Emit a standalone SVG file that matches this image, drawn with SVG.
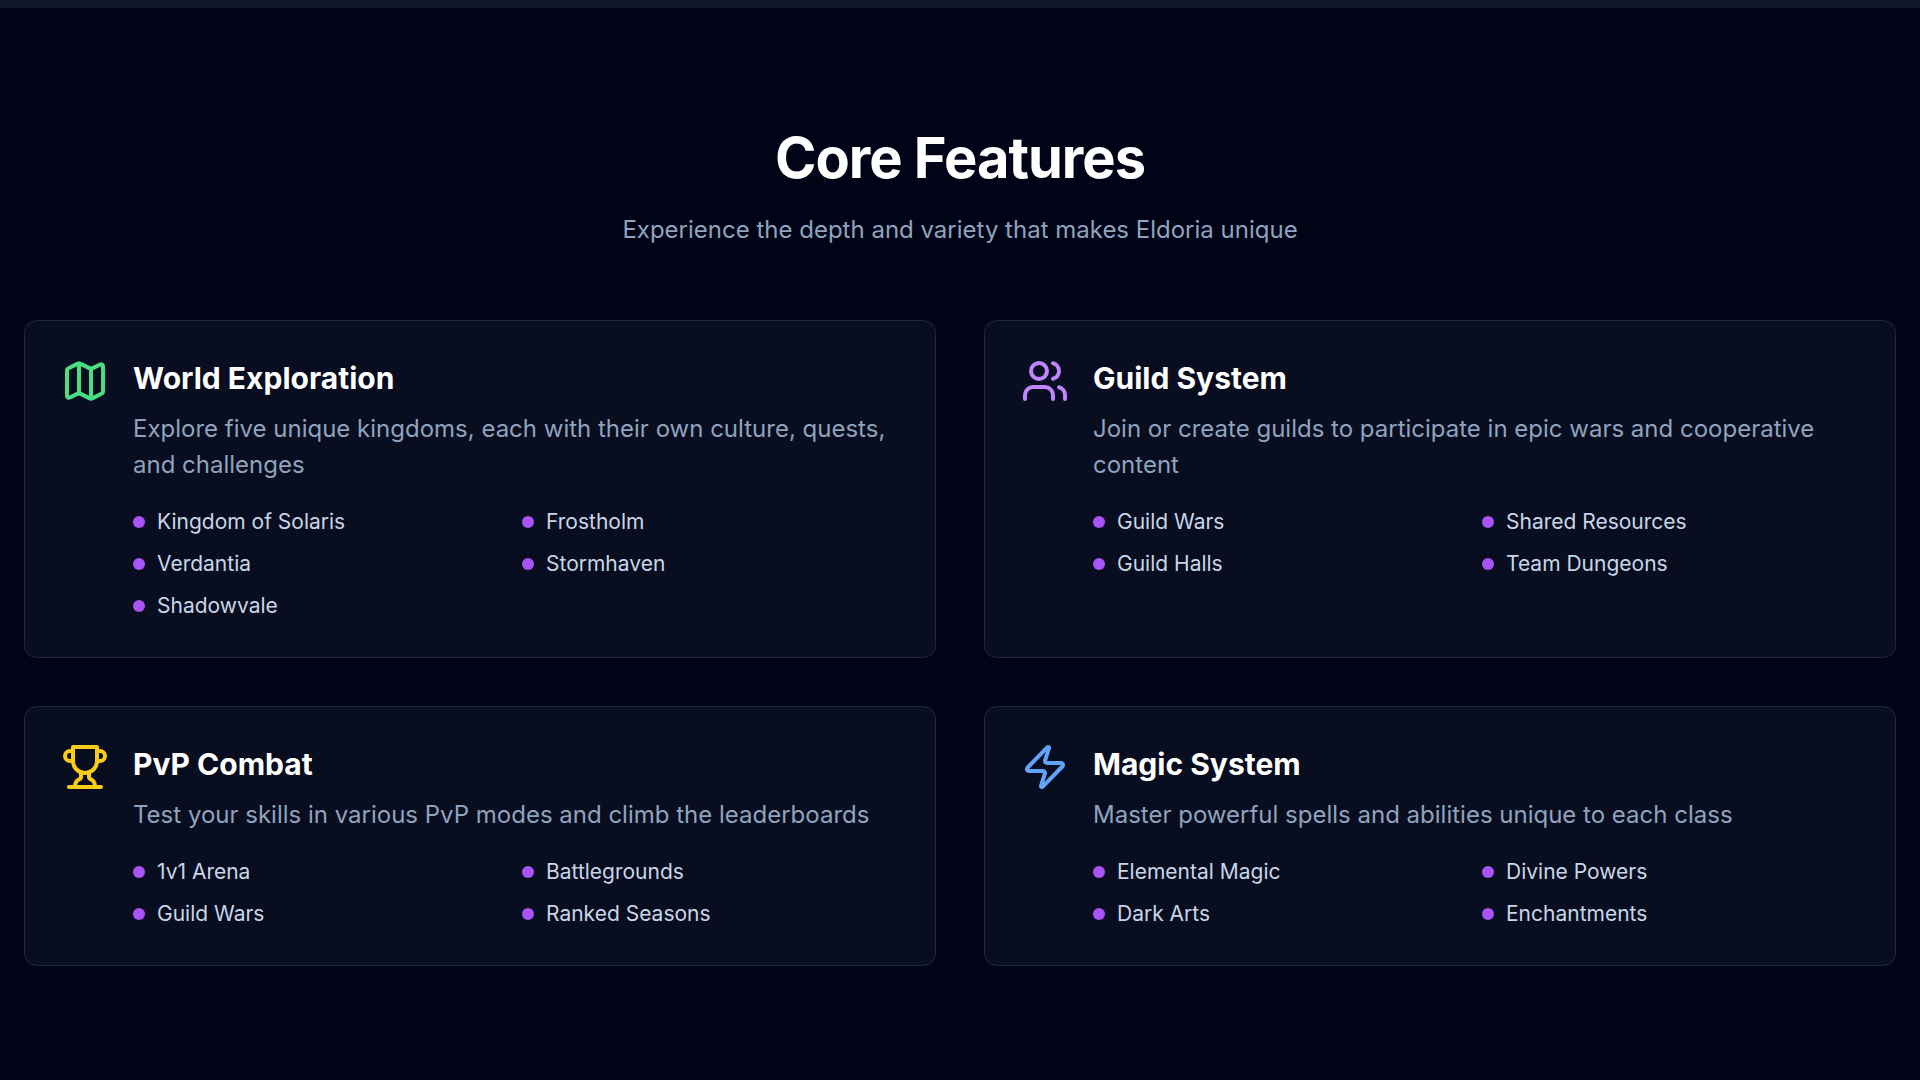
<svg xmlns="http://www.w3.org/2000/svg" width="1920" height="1080" viewBox="0 0 1920 1080">
<defs>
<style>
text{font-family:Inter,"Liberation Sans",sans-serif}
.h{font-size:56px;font-weight:700;fill:#fff;text-anchor:middle;letter-spacing:-1px}
.s{font-size:24px;fill:#8fa3be;text-anchor:middle}
.card{fill:#080d1f;stroke:#1e293b;stroke-width:1}
.t{font-size:30px;font-weight:700;fill:#fff}
.d{font-size:24px;fill:#8fa3be}
.l{font-size:21px;fill:#c8d6e8}
.b{fill:#a855f7}
.i{fill:none;stroke-width:2;stroke-linecap:round;stroke-linejoin:round}
</style>
</defs>
<rect width="1920" height="1080" fill="#010416"/>
<rect width="1920" height="8" fill="#0f172a"/>
<text class="h" x="960" y="178">Core Features</text>
<text class="s" x="960" y="238">Experience the depth and variety that makes Eldoria unique</text>
<g id="world-exploration">
<rect class="card" x="24.5" y="320.5" width="911" height="337" rx="12"/>
<g class="i" stroke="#4ade80" transform="translate(61 357) scale(2)"><path d="M14.106 5.553a2 2 0 0 0 1.788 0l3.659-1.83A1 1 0 0 1 21 4.619v12.764a1 1 0 0 1-.553.894l-4.553 2.277a2 2 0 0 1-1.788 0l-4.212-2.106a2 2 0 0 0-1.788 0l-3.659 1.83A1 1 0 0 1 3 19.381V6.618a1 1 0 0 1 .553-.894l4.553-2.277a2 2 0 0 1 1.788 0z"/><path d="M15 5.764v15"/><path d="M9 3.236v15"/></g>
<text class="t" x="133" y="389">World Exploration</text>
<text class="d" x="133" y="437">Explore five unique kingdoms, each with their own culture, quests,</text>
<text class="d" x="133" y="473">and challenges</text>
<circle class="b" cx="139" cy="522" r="6"/><text class="l" x="157" y="529">Kingdom of Solaris</text>
<circle class="b" cx="528" cy="522" r="6"/><text class="l" x="546" y="529">Frostholm</text>
<circle class="b" cx="139" cy="564" r="6"/><text class="l" x="157" y="571">Verdantia</text>
<circle class="b" cx="528" cy="564" r="6"/><text class="l" x="546" y="571">Stormhaven</text>
<circle class="b" cx="139" cy="606" r="6"/><text class="l" x="157" y="613">Shadowvale</text>
</g>
<g id="guild-system">
<rect class="card" x="984.5" y="320.5" width="911" height="337" rx="12"/>
<g class="i" stroke="#c084fc" transform="translate(1021 357) scale(2)"><path d="M16 21v-2a4 4 0 0 0-4-4H6a4 4 0 0 0-4 4v2"/><circle cx="9" cy="7" r="4"/><path d="M22 21v-2a4 4 0 0 0-3-3.87"/><path d="M16 3.13a4 4 0 0 1 0 7.75"/></g>
<text class="t" x="1093" y="389">Guild System</text>
<text class="d" x="1093" y="437">Join or create guilds to participate in epic wars and cooperative</text>
<text class="d" x="1093" y="473">content</text>
<circle class="b" cx="1099" cy="522" r="6"/><text class="l" x="1117" y="529">Guild Wars</text>
<circle class="b" cx="1488" cy="522" r="6"/><text class="l" x="1506" y="529">Shared Resources</text>
<circle class="b" cx="1099" cy="564" r="6"/><text class="l" x="1117" y="571">Guild Halls</text>
<circle class="b" cx="1488" cy="564" r="6"/><text class="l" x="1506" y="571">Team Dungeons</text>
</g>
<g id="pvp-combat">
<rect class="card" x="24.5" y="706.5" width="911" height="259" rx="12"/>
<g class="i" stroke="#facc15" transform="translate(61 743) scale(2)"><path d="M6 9H4.5a2.5 2.5 0 0 1 0-5H6"/><path d="M18 9h1.5a2.5 2.5 0 0 0 0-5H18"/><path d="M4 22h16"/><path d="M10 14.66V17c0 .55-.47.98-.97 1.21C7.85 18.75 7 20.24 7 22"/><path d="M14 14.66V17c0 .55.47.98.97 1.21C16.15 18.75 17 20.24 17 22"/><path d="M18 2H6v7a6 6 0 0 0 12 0V2Z"/></g>
<text class="t" x="133" y="775">PvP Combat</text>
<text class="d" x="133" y="823">Test your skills in various PvP modes and climb the leaderboards</text>
<circle class="b" cx="139" cy="872" r="6"/><text class="l" x="157" y="879">1v1 Arena</text>
<circle class="b" cx="528" cy="872" r="6"/><text class="l" x="546" y="879">Battlegrounds</text>
<circle class="b" cx="139" cy="914" r="6"/><text class="l" x="157" y="921">Guild Wars</text>
<circle class="b" cx="528" cy="914" r="6"/><text class="l" x="546" y="921">Ranked Seasons</text>
</g>
<g id="magic-system">
<rect class="card" x="984.5" y="706.5" width="911" height="259" rx="12"/>
<g class="i" stroke="#60a5fa" transform="translate(1021 743) scale(2)"><path d="M4 14a1 1 0 0 1-.78-1.63l9.9-10.2a.5.5 0 0 1 .86.46l-1.92 6.02A1 1 0 0 0 13 10h7a1 1 0 0 1 .78 1.63l-9.9 10.2a.5.5 0 0 1-.86-.46l1.92-6.02A1 1 0 0 0 11 14z"/></g>
<text class="t" x="1093" y="775">Magic System</text>
<text class="d" x="1093" y="823">Master powerful spells and abilities unique to each class</text>
<circle class="b" cx="1099" cy="872" r="6"/><text class="l" x="1117" y="879">Elemental Magic</text>
<circle class="b" cx="1488" cy="872" r="6"/><text class="l" x="1506" y="879">Divine Powers</text>
<circle class="b" cx="1099" cy="914" r="6"/><text class="l" x="1117" y="921">Dark Arts</text>
<circle class="b" cx="1488" cy="914" r="6"/><text class="l" x="1506" y="921">Enchantments</text>
</g>
</svg>
